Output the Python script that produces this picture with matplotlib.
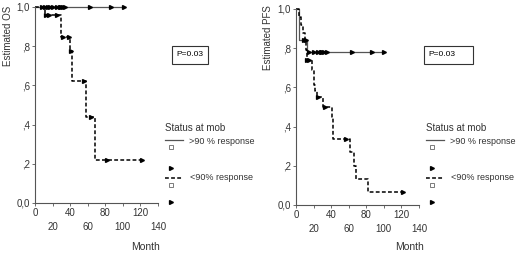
import numpy as np
import matplotlib
matplotlib.use("Agg")
import matplotlib.pyplot as plt
from matplotlib.lines import Line2D
from matplotlib.patches import Rectangle

plt.rcParams['font.family'] = ['Liberation Sans', 'DejaVu Sans']

# OS, >90 % response (no events, only censored)
os_good_t = [0]
os_good_s = [1.0]
os_good_cens = [8, 11, 15, 17, 21, 25, 28, 30, 32, 34, 63, 86, 101]

# OS, <90% response
os_poor_t = [0, 11, 30, 40, 42, 58, 68]
os_poor_s = [1.0, 0.958, 0.848, 0.776, 0.624, 0.44, 0.22]
os_poor_cens = [12.5, 16, 25, 32, 39, 41, 56, 64, 82, 122]

# PFS, >90 % response
pfs_good_t = [0, 3.8, 12.5]
pfs_good_s = [1.0, 0.84, 0.78]
pfs_good_cens = [9, 11, 15, 21, 25, 28, 30, 32, 35, 64, 86, 100]

# PFS, <90% response
pfs_poor_t = [0, 3, 6, 8, 10, 11, 12, 18, 20, 22, 24, 31, 41, 42, 62, 66, 68, 82]
pfs_poor_s = [1.0, 0.96, 0.92, 0.88, 0.84, 0.79, 0.74, 0.69, 0.61, 0.58, 0.55,
              0.50, 0.45, 0.335, 0.27, 0.20, 0.135, 0.068]
pfs_poor_cens = [13, 15, 25, 33, 57, 122]

xticks = [0, 20, 40, 60, 80, 100, 120, 140]
xtick_labels = ['0', '\n20', '40', '\n60', '80', '\n100', '120', '\n140']
yticks = [0, 0.2, 0.4, 0.6, 0.8, 1.0]
ytick_labels = ['0,0', ',2', ',4', ',6', ',8', '1,0']


def surv_at(t, s, x):
    idx = np.searchsorted(t, x, side='right') - 1
    return np.array(s)[idx]


def km(ax, t, s, cens, color, ls, lw):
    tt = list(t) + [max(cens)]
    ss = list(s) + [s[-1]]
    ax.step(tt, ss, where='post', color=color, ls=ls, lw=lw, clip_on=False)
    ax.plot(cens, surv_at(t, s, cens), ls='none', marker='>', ms=2.8,
            color='black', clip_on=False)


fig = plt.figure(figsize=(5.2, 2.56), dpi=100)

panels = [
    ([35 / 520, 1 - 203 / 256, 123 / 520, 196 / 256], 'Estimated OS',
     (os_good_t, os_good_s, os_good_cens), (os_poor_t, os_poor_s, os_poor_cens)),
    ([296 / 520, 1 - 205 / 256, 123 / 520, 196 / 256], 'Estimated PFS',
     (pfs_good_t, pfs_good_s, pfs_good_cens), (pfs_poor_t, pfs_poor_s, pfs_poor_cens)),
]

for rect, ylab, good, poor in panels:
    ax = fig.add_axes(rect)
    km(ax, *good, color='#555555', ls='-', lw=0.9)
    km(ax, *poor, color='black', ls=(0, (2.5, 1.5)), lw=1.1)
    ax.set_xlim(0, 140)
    ax.set_ylim(0, 1)
    ax.set_xticks(xticks)
    ax.set_xticklabels(xtick_labels, fontsize=7, color='#333333', linespacing=1.5)
    ax.set_yticks(yticks)
    ax.set_yticklabels(ytick_labels, fontsize=7, color='#333333')
    for sp in ['top', 'right']:
        ax.spines[sp].set_visible(False)
    for sp in ['left', 'bottom']:
        ax.spines[sp].set_color('#555555')
        ax.spines[sp].set_linewidth(0.8)
    ax.tick_params(length=2, width=0.6, color='#555555', pad=1.5)

# overlay in pixel coordinates for labels, boxes and legends
ov = fig.add_axes([0, 0, 1, 1])
ov.set_xlim(0, 520)
ov.set_ylim(256, 0)
ov.axis('off')

ov.text(8, 36, 'Estimated OS', fontsize=7, rotation=90, ha='center', va='center', color='#333333')
ov.text(268, 38, 'Estimated PFS', fontsize=7, rotation=90, ha='center', va='center', color='#333333')
ov.text(146, 247, 'Month', fontsize=7.5, ha='center', va='center', color='#333333')
ov.text(409, 247, 'Month', fontsize=7.5, ha='center', va='center', color='#333333')

for bx, bw in [(172, 36), (424, 49)]:
    ov.add_patch(Rectangle((bx, 46), bw, 18, fill=False, lw=0.8, ec='#333333'))
    ov.text(bx + 4, 55, 'P=0.03', fontsize=6, va='center', ha='left')

for lx in [165, 426]:
    ov.text(lx, 128, 'Status at mob', fontsize=7, va='center', color='#333333')
    ov.add_line(Line2D([lx, lx + 18], [140, 140], color='#555555', lw=0.9))
    ov.text(lx + 24, 142, '>90 % response', fontsize=6.5, va='center', color='#333333')
    ov.plot([lx + 6], [147], ls='none', marker='s', ms=2.2, mfc='white', mec='#666666', mew=0.6)
    ov.plot([lx + 6], [168], ls='none', marker='>', ms=2.8, color='black')
    ov.add_line(Line2D([lx, lx + 18], [178, 178], color='black', lw=1.1, ls=(0, (2.5, 1.5))))
    ov.text(lx + 25, 178, '<90% response', fontsize=6.5, va='center', color='#333333')
    ov.plot([lx + 6], [185], ls='none', marker='s', ms=2.2, mfc='white', mec='#666666', mew=0.6)
    ov.plot([lx + 6], [202], ls='none', marker='>', ms=2.8, color='black')

fig.savefig('out.png', dpi=100)
